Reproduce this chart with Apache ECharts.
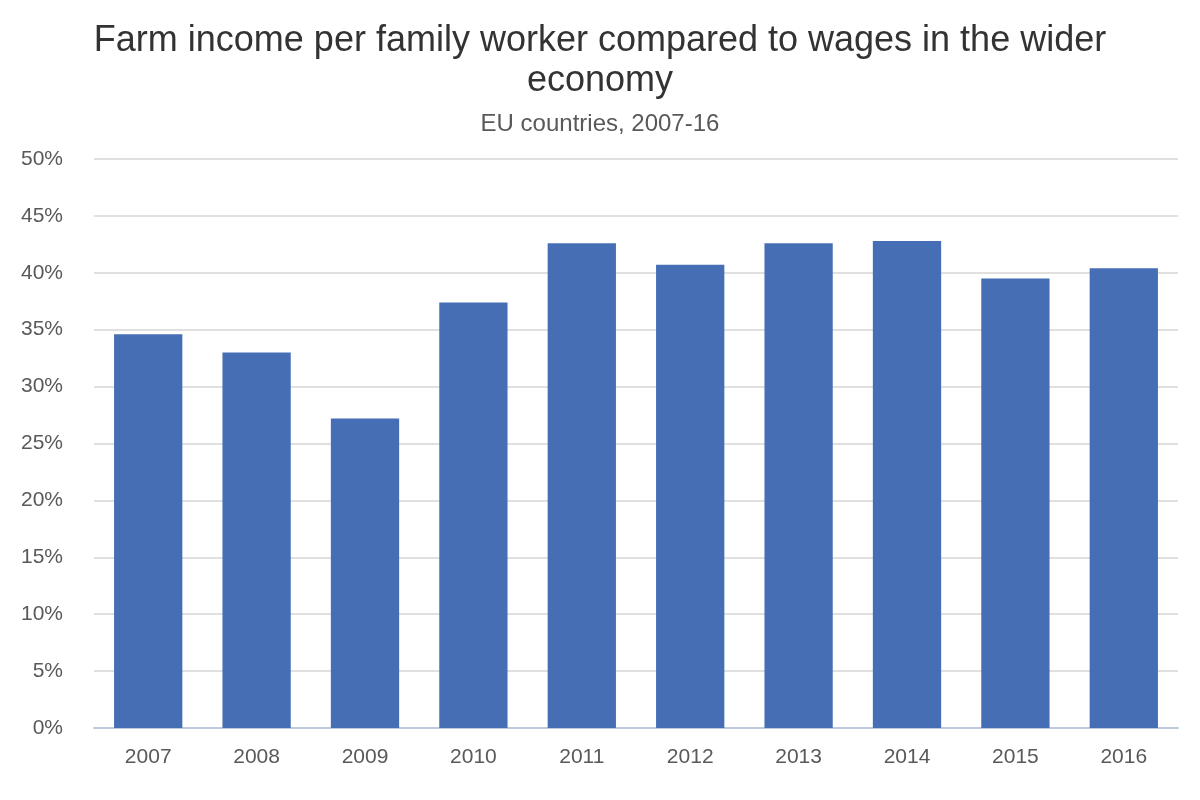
<!DOCTYPE html>
<html>
<head>
<meta charset="utf-8">
<script src="https://cdn.jsdelivr.net/npm/echarts@6/dist/echarts.min.js"></script>
<style>
  html, body { margin: 0; padding: 0; background: #fff; }
  #chart { width: 1200px; height: 800px; }
</style>
</head>
<body>
<div id="chart"></div>
<script>
var years = ['2007', '2008', '2009', '2010', '2011', '2012', '2013', '2014', '2015', '2016'];
var incomeShare = [34.6, 33.0, 27.2, 37.4, 42.6, 40.7, 42.6, 42.8, 39.5, 40.4];
var yTicks = [0, 5, 10, 15, 20, 25, 30, 35, 40, 45, 50];

var myChart = echarts.init(document.getElementById('chart'));
var option = {
    backgroundColor: '#ffffff',
    textStyle: { fontFamily: 'Liberation Sans, Arial, sans-serif' },
    title: {
        text: 'Farm income per family worker compared to wages in the wider\neconomy',
        subtext: 'EU countries, 2007-16',
        left: 'center',
        top: 16,
        itemGap: 11,
        textStyle: {
            fontSize: 36,
            fontWeight: 'normal',
            color: '#333333',
            lineHeight: 40
        },
        subtextStyle: {
            fontSize: 24,
            color: '#595959'
        }
    },
    grid: {
        left: 94,
        right: 22,
        top: 159,
        bottom: 72,
        containLabel: false
    },
    xAxis: {
        type: 'category',
        data: years,
        axisLine: { lineStyle: { color: '#bfc9de', width: 2 } },
        axisTick: { show: false },
        axisLabel: { fontSize: 21, color: '#595959', margin: 19 }
    },
    yAxis: {
        type: 'value',
        min: yTicks[0],
        max: yTicks[yTicks.length - 1],
        interval: 5,
        axisLine: { show: false },
        axisTick: { show: false },
        splitLine: { lineStyle: { color: '#e0e0e0', width: 2 } },
        axisLabel: {
            fontSize: 21,
            color: '#595959',
            margin: 31,
            formatter: '{value}%'
        }
    },
    series: [
        {
            type: 'bar',
            data: incomeShare,
            barWidth: '63%',
            itemStyle: { color: '#466eb4' }
        }
    ]
};
myChart.setOption(option);
</script>
</body>
</html>
